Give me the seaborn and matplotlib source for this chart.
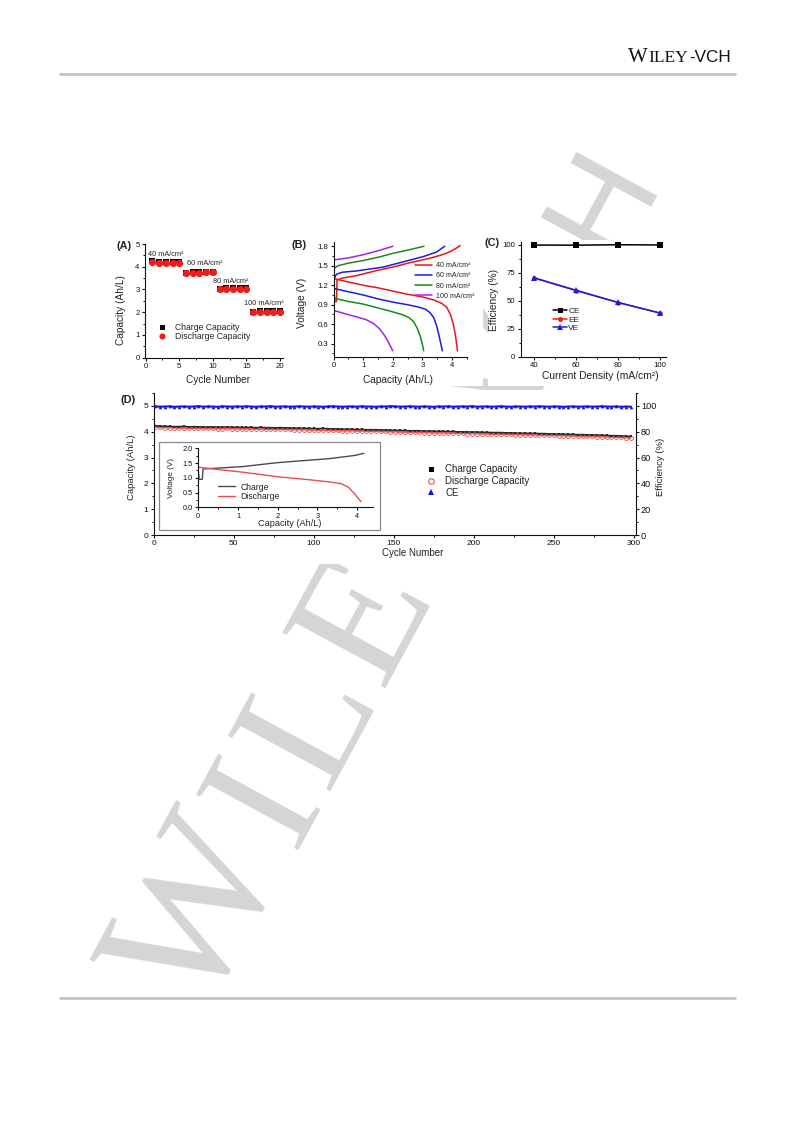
import math
import matplotlib
matplotlib.use("Agg")
import matplotlib.pyplot as plt
from matplotlib.lines import Line2D
from matplotlib.patches import Rectangle
from matplotlib.ticker import MultipleLocator
import seaborn as sns

ANCHO, ALTO = 793, 1121

# ---------------- (A) capacidad por ciclo ----------------
ciclos_a = list(range(1, 21))
carga_a = [4.25, 4.23, 4.21, 4.20, 4.21, 3.74, 3.76, 3.77, 3.79, 3.79,
           3.03, 3.05, 3.07, 3.05, 3.05, 2.03, 2.04, 2.04, 2.06, 2.05]
descarga_a = [4.19, 4.18, 4.17, 4.16, 4.17, 3.71, 3.73, 3.74, 3.76, 3.76,
              3.01, 3.03, 3.04, 3.03, 3.03, 2.00, 2.01, 2.01, 2.02, 2.01]
etiquetas_densidad = ["40 mA/cm²", "60 mA/cm²", "80 mA/cm²", "100 mA/cm²"]

# ---------------- (B) curvas de carga y descarga ----------------
cap_carga_40 = [0.00, 0.04, 0.10, 0.12, 0.30, 0.80, 1.40, 2.00, 2.60, 3.20, 3.60, 3.90, 4.10, 4.27]
volt_carga_40 = [1.28, 0.95, 0.95, 1.28, 1.31, 1.35, 1.42, 1.48, 1.55, 1.61, 1.66, 1.71, 1.76, 1.81]
cap_desc_40 = [0.03, 0.50, 1.00, 1.50, 2.00, 2.50, 3.00, 3.40, 3.65, 3.82, 3.95, 4.05, 4.12, 4.18]
volt_desc_40 = [1.30, 1.25, 1.20, 1.16, 1.11, 1.06, 1.02, 0.97, 0.92, 0.86, 0.74, 0.58, 0.40, 0.19]

cap_carga_60 = [0.02, 0.10, 0.30, 0.78, 1.68, 2.35, 3.02, 3.47, 3.75]
volt_carga_60 = [1.30, 1.37, 1.40, 1.42, 1.48, 1.56, 1.64, 1.71, 1.80]
cap_desc_60 = [0.02, 0.50, 1.00, 1.50, 2.00, 2.50, 2.90, 3.10, 3.25, 3.38, 3.48, 3.57, 3.67]
volt_desc_60 = [1.15, 1.10, 1.05, 0.99, 0.94, 0.90, 0.86, 0.83, 0.78, 0.70, 0.57, 0.40, 0.19]

cap_carga_80 = [0.02, 0.15, 0.50, 1.00, 1.50, 2.00, 2.50, 3.05]
volt_carga_80 = [1.46, 1.50, 1.54, 1.58, 1.63, 1.69, 1.74, 1.80]
cap_desc_80 = [0.02, 0.50, 1.00, 1.50, 2.00, 2.30, 2.55, 2.70, 2.82, 2.92, 3.00, 3.04]
volt_desc_80 = [1.00, 0.95, 0.91, 0.85, 0.79, 0.75, 0.70, 0.64, 0.54, 0.42, 0.28, 0.19]

cap_carga_100 = [0.02, 0.50, 1.00, 1.50, 2.00]
volt_carga_100 = [1.59, 1.62, 1.67, 1.73, 1.80]
cap_desc_100 = [0.02, 0.40, 0.80, 1.10, 1.35, 1.55, 1.70, 1.82, 1.92, 2.00]
volt_desc_100 = [0.81, 0.76, 0.71, 0.67, 0.61, 0.53, 0.44, 0.35, 0.26, 0.19]

colores_b = ["#e8161b", "#1c1ce0", "#1b8a1b", "#a224e8"]

# ---------------- (C) eficiencias ----------------
densidad_c = [40, 60, 80, 100]
ce_c = [99.5, 99.4, 99.8, 99.6]
ee_c = [70.0, 58.9, 48.3, 38.9]
ve_c = [70.3, 59.2, 48.4, 39.0]

# ---------------- (D) ciclado largo ----------------
ciclos_d = list(range(1, 300, 3))
carga_d = [4.24, 4.22, 4.21, 4.21, 4.20, 4.20, 4.21, 4.19, 4.20, 4.19,
           4.19, 4.18, 4.19, 4.18, 4.18, 4.19, 4.17, 4.18, 4.17, 4.17,
           4.17, 4.16, 4.17, 4.16, 4.16, 4.15, 4.16, 4.15, 4.15, 4.14,
           4.14, 4.14, 4.13, 4.13, 4.12, 4.13, 4.12, 4.11, 4.11, 4.10,
           4.10, 4.10, 4.09, 4.09, 4.08, 4.08, 4.08, 4.07, 4.07, 4.06,
           4.06, 4.05, 4.05, 4.04, 4.04, 4.04, 4.03, 4.03, 4.02, 4.02,
           4.02, 4.01, 4.01, 4.00, 4.00, 3.99, 3.99, 3.99, 3.98, 3.98,
           3.97, 3.97, 3.97, 3.96, 3.96, 3.95, 3.95, 3.94, 3.94, 3.94,
           3.93, 3.93, 3.92, 3.92, 3.91, 3.91, 3.90, 3.90, 3.89, 3.89,
           3.88, 3.88, 3.87, 3.87, 3.86, 3.85, 3.85, 3.84, 3.83, 3.82]
descarga_d = [4.19, 4.17, 4.16, 4.16, 4.15, 4.15, 4.15, 4.14, 4.14, 4.14,
              4.13, 4.13, 4.13, 4.12, 4.12, 4.13, 4.12, 4.12, 4.11, 4.11,
              4.11, 4.11, 4.11, 4.10, 4.10, 4.09, 4.10, 4.09, 4.09, 4.08,
              4.08, 4.08, 4.07, 4.07, 4.06, 4.07, 4.06, 4.05, 4.05, 4.04,
              4.04, 4.04, 4.03, 4.03, 4.02, 4.02, 4.02, 4.01, 4.01, 4.00,
              4.00, 3.99, 3.99, 3.98, 3.98, 3.98, 3.97, 3.97, 3.96, 3.96,
              3.96, 3.95, 3.95, 3.94, 3.94, 3.93, 3.93, 3.93, 3.92, 3.92,
              3.91, 3.91, 3.91, 3.90, 3.90, 3.89, 3.89, 3.88, 3.88, 3.88,
              3.87, 3.87, 3.86, 3.86, 3.85, 3.85, 3.84, 3.84, 3.83, 3.83,
              3.82, 3.82, 3.81, 3.81, 3.80, 3.79, 3.79, 3.78, 3.77, 3.76]
ce_d = [99.6, 99.4, 99.5, 99.7, 99.3, 99.5, 99.6, 99.4, 99.5, 99.8,
        99.4, 99.6, 99.5, 99.3, 99.7, 99.5, 99.4, 99.6, 99.5, 99.7,
        99.5, 99.3, 99.6, 99.5, 99.8, 99.4, 99.5, 99.6, 99.4, 99.5,
        99.7, 99.5, 99.4, 99.6, 99.5, 99.3, 99.6, 99.7, 99.5, 99.4,
        99.5, 99.6, 99.4, 99.7, 99.5, 99.5, 99.3, 99.6, 99.5, 99.8,
        99.6, 99.4, 99.5, 99.7, 99.5, 99.4, 99.6, 99.5, 99.3, 99.6,
        99.5, 99.7, 99.4, 99.5, 99.6, 99.5, 99.8, 99.4, 99.5, 99.6,
        99.4, 99.5, 99.7, 99.5, 99.3, 99.6, 99.5, 99.4, 99.6, 99.5,
        99.7, 99.5, 99.4, 99.6, 99.5, 99.3, 99.5, 99.6, 99.4, 99.5,
        99.6, 99.4, 99.5, 99.7, 99.5, 99.4, 99.6, 99.3, 99.5, 99.4]

# recuadro interior de (D)
cap_ins_carga = [0.00, 0.02, 0.10, 0.12, 0.50, 1.12, 1.97, 2.82, 3.30, 3.66, 3.95, 4.17]
volt_ins_carga = [1.25, 0.95, 0.95, 1.30, 1.33, 1.38, 1.51, 1.60, 1.65, 1.71, 1.76, 1.83]
cap_ins_desc = [0.00, 0.50, 1.12, 1.97, 2.82, 3.30, 3.60, 3.78, 3.92, 4.02, 4.10]
volt_ins_desc = [1.36, 1.28, 1.19, 1.04, 0.93, 0.86, 0.80, 0.68, 0.48, 0.32, 0.19]

# ---------------- estilo ----------------
sns.set_theme(style="ticks")
plt.rcParams["font.family"] = ["Liberation Sans", "DejaVu Sans"]
plt.rcParams.update({
    "axes.linewidth": 0.8,
    "axes.edgecolor": "#111111",
    "xtick.color": "#111111", "ytick.color": "#111111",
    "text.color": "#222222", "axes.labelcolor": "#222222",
    "xtick.major.size": 2.4, "ytick.major.size": 2.4,
    "xtick.minor.size": 1.3, "ytick.minor.size": 1.3,
    "xtick.major.width": 0.8, "ytick.major.width": 0.8,
    "xtick.minor.width": 0.7, "ytick.minor.width": 0.7,
    "xtick.major.pad": 1.5, "ytick.major.pad": 1.5,
    "xtick.direction": "out", "ytick.direction": "out",
})


def pos(x0, y0, x1, y1):
    # convierte una caja en pixeles de pagina a fracciones de figura
    return [x0 / ANCHO, 1 - y1 / ALTO, (x1 - x0) / ANCHO, (y1 - y0) / ALTO]


figura = plt.figure(figsize=(ANCHO / 100, ALTO / 100), dpi=100)

# fondo de pagina: marca de agua, cabecera y lineas
fondo = figura.add_axes([0, 0, 1, 1], zorder=-10)
fondo.set_xlim(0, ANCHO)
fondo.set_ylim(ALTO, 0)
fondo.axis("off")

# marca de agua diagonal, letra por letra a lo largo de la linea base
angulo = 61.5
ux, uy = math.cos(math.radians(angulo)), -math.sin(math.radians(angulo))
x_base, y_base = 201, 1020
letras_marca = [("W", 0, "Liberation Serif", 139), ("I", 193, "Liberation Serif", 128),
                ("L", 261, "Liberation Serif", 128), ("E", 378, "Liberation Serif", 128),
                ("Y", 495, "Liberation Serif", 128), ("-", 625, "Liberation Sans", 96),
                ("V", 672, "Liberation Sans", 96), ("C", 764, "Liberation Sans", 96),
                ("H", 863, "Liberation Sans", 96)]
for letra, distancia, familia, tam in letras_marca:
    fondo.text(x_base + distancia * ux, y_base + distancia * uy, letra, family=familia,
               fontsize=tam, color="#d5d5d5", rotation=angulo, rotation_mode="anchor",
               ha="left", va="baseline", zorder=1)

for x0, y0, x1, y1 in [(100, 232, 483, 386), (488, 240, 690, 386), (100, 390, 690, 564)]:
    fondo.add_patch(Rectangle((x0, y0), x1 - x0, y1 - y0, facecolor="white",
                              edgecolor="none", zorder=2))
fondo.plot([60, 735], [73.5, 73.5], color="#c3c3c3", lw=2, zorder=3)
fondo.plot([60, 735], [998, 998], color="#c3c3c3", lw=2, zorder=3)

# cabecera con versalitas
fondo.text(628, 62, "W", family="Liberation Serif", fontsize=15, color="#111111",
           ha="left", va="baseline")
fondo.text(648, 62, "ILEY", family="Liberation Serif", fontsize=12.5,
           color="#111111", ha="left", va="baseline")
fondo.text(689, 62, "-VCH", family="Liberation Sans", fontsize=12.3,
           color="#111111", ha="left", va="baseline")

# letras de panel
for (x, y, letra) in [(116.5, 246, "(A)"), (291.5, 245, "(B)"),
                      (484.5, 243, "(C)"), (120.5, 400, "(D)")]:
    figura.text(x / ANCHO, 1 - y / ALTO, letra, fontsize=7.8, fontweight="bold",
                color="#222222", ha="left", va="center")

# ---------------- panel A ----------------
ax_a = figura.add_axes(pos(145, 244, 283, 357.7))
sns.scatterplot(x=ciclos_a, y=carga_a, marker="s", color="black", s=20,
                linewidth=0, ax=ax_a, zorder=3)
sns.scatterplot(x=ciclos_a, y=descarga_a, marker="o", color="#ee1c1c", s=27,
                linewidth=0, ax=ax_a, zorder=4)
ax_a.set_xlim(-0.1, 20.45)
ax_a.set_ylim(0, 5)
ax_a.xaxis.set_major_locator(MultipleLocator(5))
ax_a.xaxis.set_minor_locator(MultipleLocator(2.5))
ax_a.yaxis.set_major_locator(MultipleLocator(1))
ax_a.yaxis.set_minor_locator(MultipleLocator(0.5))
ax_a.tick_params(labelsize=5.6)
sns.despine(ax=ax_a)
ax_a.set_xlabel("Cycle Number", fontsize=7.3)
ax_a.set_ylabel("Capacity (Ah/L)", fontsize=7.3)
ax_a.xaxis.set_label_coords(0.529, -0.15)
ax_a.yaxis.set_label_coords(-0.138, 0.42)
for (x, y), texto in zip([(0.34, 4.56), (6.15, 4.16), (10.0, 3.33), (14.6, 2.40)],
                         etiquetas_densidad):
    ax_a.text(x, y, texto, fontsize=5.3, color="#222222", ha="left", va="center")
manejadores_a = [
    Line2D([], [], ls="none", marker="s", color="black", markersize=3.6, markeredgewidth=0),
    Line2D([], [], ls="none", marker="o", color="#ee1c1c", markersize=4.4, markeredgewidth=0),
]
ax_a.legend(manejadores_a, ["Charge Capacity", "Discharge Capacity"], fontsize=6.2,
            frameon=False, loc="center left", bbox_to_anchor=(0.09, 0.226),
            borderaxespad=0, borderpad=0, handlelength=1.0, handletextpad=1.0,
            labelspacing=0.05)

# ---------------- panel B ----------------
ax_b = figura.add_axes(pos(333.5, 241.7, 467, 356.7))
curvas_b = [
    (cap_carga_40, volt_carga_40, cap_desc_40, volt_desc_40),
    (cap_carga_60, volt_carga_60, cap_desc_60, volt_desc_60),
    (cap_carga_80, volt_carga_80, cap_desc_80, volt_desc_80),
    (cap_carga_100, volt_carga_100, cap_desc_100, volt_desc_100),
]
for (cx, cy, dx, dy), color in zip(curvas_b, colores_b):
    sns.lineplot(x=cx, y=cy, sort=False, estimator=None, color=color, lw=1.1, ax=ax_b)
    sns.lineplot(x=dx, y=dy, sort=False, estimator=None, color=color, lw=1.1, ax=ax_b)
ax_b.set_xlim(0, 4.5)
ax_b.set_ylim(0.1, 1.87)
ax_b.xaxis.set_major_locator(MultipleLocator(1))
ax_b.xaxis.set_minor_locator(MultipleLocator(0.5))
ax_b.set_yticks([0.3, 0.6, 0.9, 1.2, 1.5, 1.8])
ax_b.yaxis.set_minor_locator(MultipleLocator(0.15))
ax_b.tick_params(labelsize=5.6)
sns.despine(ax=ax_b)
ax_b.set_xlabel("Capacity (Ah/L)", fontsize=7.3)
ax_b.set_ylabel("Voltage (V)", fontsize=7.3)
ax_b.xaxis.set_label_coords(0.485, -0.16)
ax_b.yaxis.set_label_coords(-0.196, 0.464)
manejadores_b = [Line2D([], [], color=c, lw=1.1) for c in colores_b]
ax_b.legend(manejadores_b, etiquetas_densidad, fontsize=5.1, frameon=False,
            loc="center left", bbox_to_anchor=(0.61, 0.658), borderaxespad=0,
            borderpad=0, handlelength=2.4, handletextpad=0.55, labelspacing=0.45)

# ---------------- panel C ----------------
ax_c = figura.add_axes(pos(520.7, 241.7, 666, 356.7))
sns.lineplot(x=densidad_c, y=ce_c, color="black", marker="s", markersize=4,
             markeredgewidth=0, lw=1.1, ax=ax_c)
sns.lineplot(x=densidad_c, y=ee_c, color="#ee1c1c", marker="o", markersize=3.4,
             markeredgewidth=0, lw=1.1, ax=ax_c)
sns.lineplot(x=densidad_c, y=ve_c, color="#1c1ce6", marker="^", markersize=5,
             markeredgewidth=0, lw=1.1, ax=ax_c)
ax_c.set_xlim(33.5, 103)
ax_c.set_ylim(0, 102.5)
ax_c.set_xticks([40, 60, 80, 100])
ax_c.xaxis.set_minor_locator(MultipleLocator(10))
ax_c.set_yticks([0, 25, 50, 75, 100])
ax_c.yaxis.set_minor_locator(MultipleLocator(12.5))
ax_c.tick_params(labelsize=5.6)
sns.despine(ax=ax_c)
ax_c.set_xlabel("Current Density (mA/cm²)", fontsize=7.4)
ax_c.set_ylabel("Efficiency (%)", fontsize=7.3)
ax_c.xaxis.set_label_coords(0.546, -0.125)
ax_c.yaxis.set_label_coords(-0.147, 0.493)
manejadores_c = [
    Line2D([], [], color="black", marker="s", markersize=3.6, markeredgewidth=0, lw=1.1),
    Line2D([], [], color="#ee1c1c", marker="o", markersize=3.6, markeredgewidth=0, lw=1.1),
    Line2D([], [], color="#1c1ce6", marker="^", markersize=4.0, markeredgewidth=0, lw=1.1),
]
ax_c.legend(manejadores_c, ["CE", "EE", "VE"], fontsize=6.0, frameon=False,
            loc="center left", bbox_to_anchor=(0.222, 0.322), borderaxespad=0,
            borderpad=0, handlelength=1.7, handletextpad=0.15, labelspacing=0.05)

# ---------------- panel D ----------------
ax_d = figura.add_axes(pos(153.5, 393, 635.5, 535))
sns.lineplot(x=ciclos_d, y=descarga_d, estimator=None, color="#ec5050", lw=1.2,
             marker="o", markersize=2.8, markerfacecolor="none",
             markeredgecolor="#ec5050", markeredgewidth=0.6, ax=ax_d)
sns.lineplot(x=ciclos_d, y=carga_d, estimator=None, color="#2a2a2a", lw=1.1,
             marker="s", markersize=1.6, markeredgewidth=0, ax=ax_d)
ax_d.set_xlim(0, 301)
ax_d.set_ylim(0, 5.5)
ax_d.xaxis.set_major_locator(MultipleLocator(50))
ax_d.xaxis.set_minor_locator(MultipleLocator(25))
ax_d.set_yticks([0, 1, 2, 3, 4, 5])
ax_d.yaxis.set_minor_locator(MultipleLocator(0.5))
ax_d.tick_params(labelsize=6.0)
for lado in ["top", "right"]:
    ax_d.spines[lado].set_visible(False)
ax_d.set_xlabel("Cycle Number", fontsize=7.0)
ax_d.set_ylabel("Capacity (Ah/L)", fontsize=6.8)
ax_d.xaxis.set_label_coords(0.537, -0.095)
ax_d.yaxis.set_label_coords(-0.036, 0.48)

ax_d2 = ax_d.twinx()
sns.lineplot(x=ciclos_d, y=ce_d, estimator=None, color="#1414e0", lw=1.5,
             marker="^", markersize=2.6, markeredgewidth=0, ax=ax_d2)
ax_d2.set_ylim(0, 110)
ax_d2.set_yticks([0, 20, 40, 60, 80, 100])
ax_d2.yaxis.set_minor_locator(MultipleLocator(10))
ax_d2.tick_params(labelsize=6.6)
for lado in ["top", "left", "bottom"]:
    ax_d2.spines[lado].set_visible(False)
ax_d2.set_ylabel("Efficiency (%)", fontsize=6.8)
ax_d2.yaxis.set_label_coords(1.0425, 0.48)
manejadores_d = [
    Line2D([], [], ls="none", marker="s", color="black", markersize=3.6, markeredgewidth=0),
    Line2D([], [], ls="none", marker="o", markerfacecolor="none",
           markeredgecolor="#ec5050", markersize=4.0, markeredgewidth=0.8),
    Line2D([], [], ls="none", marker="^", color="#1414e0", markersize=4.2, markeredgewidth=0),
]
ax_d2.legend(manejadores_d, ["Charge Capacity", "Discharge Capacity", "CE"],
             fontsize=7.0, frameon=False, loc="center left",
             bbox_to_anchor=(0.565, 0.38), borderaxespad=0, borderpad=0,
             handlelength=1.0, handletextpad=1.0, labelspacing=0.18)

# marco del recuadro interior
ax_d2.add_patch(Rectangle((0.012, 0.035), 0.458, 0.622, transform=ax_d2.transAxes,
                          facecolor="white", edgecolor="#8a8a8a", lw=0.9, zorder=3))

ax_in = figura.add_axes(pos(198.3, 448.3, 373, 507.3))
sns.lineplot(x=cap_ins_carga, y=volt_ins_carga, sort=False, estimator=None,
             color="#4a4a4a", lw=1.0, ax=ax_in)
sns.lineplot(x=cap_ins_desc, y=volt_ins_desc, sort=False, estimator=None,
             color="#f04b4b", lw=1.0, ax=ax_in)
ax_in.set_xlim(0, 4.4)
ax_in.set_ylim(0, 2.0)
ax_in.xaxis.set_major_locator(MultipleLocator(1))
ax_in.xaxis.set_minor_locator(MultipleLocator(0.5))
ax_in.set_yticks([0.0, 0.5, 1.0, 1.5, 2.0])
ax_in.set_yticklabels(["0.0", "0.5", "1.0", "1.5", "2.0"])
ax_in.yaxis.set_minor_locator(MultipleLocator(0.25))
ax_in.tick_params(labelsize=5.3)
sns.despine(ax=ax_in)
ax_in.set_xlabel("Capacity (Ah/L)", fontsize=6.6)
ax_in.set_ylabel("Voltage (V)", fontsize=5.8)
ax_in.xaxis.set_label_coords(0.525, -0.19)
ax_in.yaxis.set_label_coords(-0.133, 0.49)
manejadores_in = [Line2D([], [], color="#4a4a4a", lw=1.0),
                  Line2D([], [], color="#f04b4b", lw=1.0)]
ax_in.legend(manejadores_in, ["Charge", "Discharge"], fontsize=6.2, frameon=False,
             loc="center left", bbox_to_anchor=(0.113, 0.264), borderaxespad=0,
             borderpad=0, handlelength=2.0, handletextpad=0.6, labelspacing=0.05)

figura.savefig("out.png", dpi=100)
plt.close(figura)
